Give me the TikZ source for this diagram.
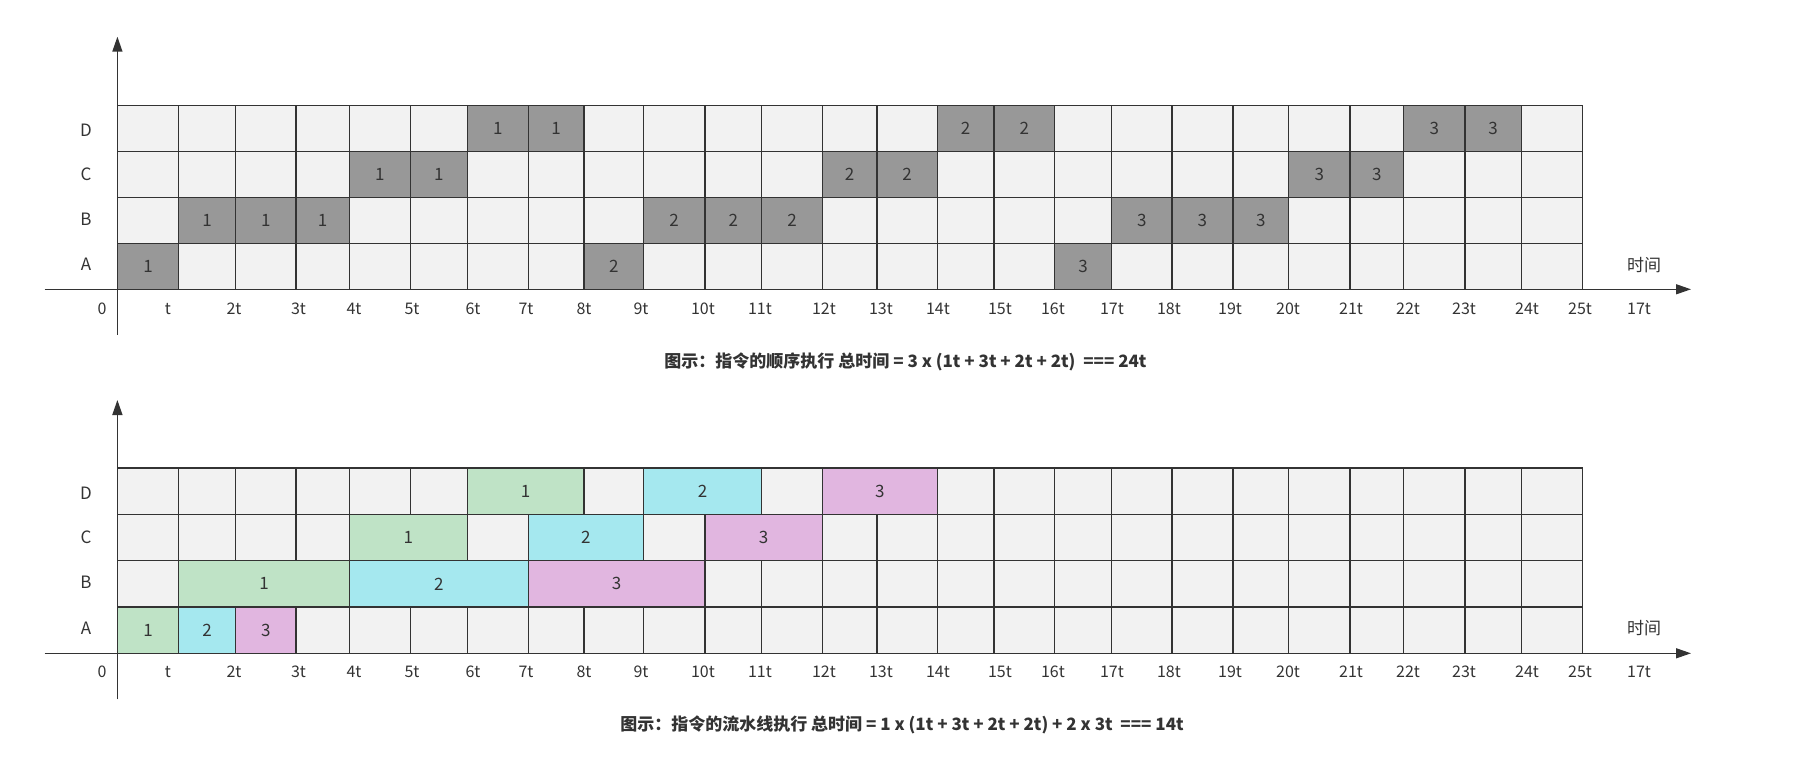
\documentclass[tikz,border=0pt]{standalone}
\usepackage{fontspec}
\setmainfont{Noto Sans CJK SC}
\usetikzlibrary{arrows.meta}
\definecolor{cellbg}{HTML}{F2F2F2}
\definecolor{gridc}{HTML}{333333}
\definecolor{darkcell}{HTML}{989898}
\definecolor{gcell}{HTML}{BFE3C6}
\definecolor{ccell}{HTML}{A5E8EF}
\definecolor{pcell}{HTML}{E1B6E0}
\definecolor{txt}{HTML}{333333}
\tikzset{
  gridl/.style={draw=gridc, line width=1.5pt},
  axisl/.style={draw=gridc, line width=1.4pt, -{Triangle[length=15pt,width=10pt]}},
  celltxt/.style={text=txt, font=\fontsize{17}{20}\selectfont, inner sep=0pt},
  rowlbl/.style={text=txt, font=\fontsize{17}{20}\selectfont, inner sep=0pt},
  ticklbl/.style={text=txt, font=\fontsize{16}{19}\selectfont, inner sep=0pt},
  caption/.style={text=txt, font=\bfseries\fontsize{17}{20}\selectfont, inner sep=0pt},
}
\newcommand\blk[7]{%
  \edef\xa{\csname colx#2\endcsname}\edef\xb{\csname colx#3\endcsname}%
  \draw[gridl, fill=#6] (\xa,#4) rectangle (\xb,#5);
  \node[celltxt] (#1) at ({(\xa+\xb)/2},{(#4+#5)/2}) {#7};}
\begin{document}
\begin{tikzpicture}[x=1pt,y=-1pt]
\useasboundingbox (0,0) rectangle (1804,775);
\foreach \x [count=\i from 0] in {117.4,178.7,235.7,295.8,349.5,410.4,467.4,528.3,584.0,643.5,704.8,761.7,822.6,876.8,937.3,993.8,1054.7,1111.7,1171.8,1232.9,1288.6,1349.9,1403.6,1464.9,1521.4,1582.7}{\expandafter\xdef\csname colx\i\endcsname{\x}}
% row limits, top chart (s) and bottom chart (p)
\def\sDtop{105.3}\def\sDbot{151.3}\def\sCtop{151.3}\def\sCbot{197.3}
\def\sBtop{197.3}\def\sBbot{243.3}\def\sAtop{243.3}\def\sAbot{289.3}
\def\pDtop{468.0}\def\pDbot{514.3}\def\pCtop{514.3}\def\pCbot{560.7}
\def\pBtop{560.7}\def\pBbot{607.0}\def\pAtop{607.0}\def\pAbot{653.3}

% ---------- background grids ----------
\foreach \i in {0,...,24}{
  \pgfmathtruncatemacro\j{\i+1}
  \edef\xa{\csname colx\i\endcsname}\edef\xb{\csname colx\j\endcsname}
  \foreach \ya/\yb in {105.3/151.3,151.3/197.3,197.3/243.3,243.3/289.3,468.0/514.3,514.3/560.7,560.7/607.0,607.0/653.3}
    \draw[gridl, fill=cellbg] (\xa,\ya) rectangle (\xb,\yb);
}

% ---------- top chart: sequential ----------
\foreach \c/\t/\rw in {0/1/A,8/2/A,16/3/A,1/1/B,2/1/B,3/1/B,9/2/B,10/2/B,11/2/B,17/3/B,18/3/B,19/3/B,4/1/C,5/1/C,12/2/C,13/2/C,20/3/C,21/3/C,6/1/D,7/1/D,14/2/D,15/2/D,22/3/D,23/3/D}{
  \pgfmathtruncatemacro\e{\c+1}
  \blk{s\rw\c}{\c}{\e}{\csname s\rw top\endcsname}{\csname s\rw bot\endcsname}{darkcell}{\t}
}

% ---------- bottom chart: pipeline ----------
\foreach \c/\e/\t/\rw/\f in {0/1/1/A/gcell,1/2/2/A/ccell,2/3/3/A/pcell,1/4/1/B/gcell,4/7/2/B/ccell,7/10/3/B/pcell,4/6/1/C/gcell,7/9/2/C/ccell,10/12/3/C/pcell,6/8/1/D/gcell,9/11/2/D/ccell,12/14/3/D/pcell}{
  \blk{p\rw\c}{\c}{\e}{\csname p\rw top\endcsname}{\csname p\rw bot\endcsname}{\f}{\t}
}

% ---------- axes ----------
\coordinate (sx0) at (44.7,289.3);  \coordinate (sx1) at (1691,289.3);
\coordinate (sy0) at (117.4,335);   \coordinate (sy1) at (117.4,36.7);
\coordinate (px0) at (44.7,653.3);  \coordinate (px1) at (1691,653.3);
\coordinate (py0) at (117.4,699.3); \coordinate (py1) at (117.4,400);
\draw[axisl] (sx0) -- (sx1);
\draw[axisl] (sy0) -- (sy1);
\draw[axisl] (px0) -- (px1);
\draw[axisl] (py0) -- (py1);

% ---------- row labels ----------
\foreach \r/\ys/\yp in {D/130/493.3,C/174.5/537.3,B/219.5/582.7,A/264.5/628.3}{
  \node[rowlbl] (sl\r) at (86,\ys) {\r};
  \node[rowlbl] (pl\r) at (86,\yp) {\r};
}
\node[rowlbl] (stime) at (1644,265.5) {时间};
\node[rowlbl] (ptime) at (1644,628.3) {时间};

% ---------- tick labels ----------
\foreach \x/\l [count=\k] in {102/0,168/t,234/2t,298.5/3t,354/4t,412/5t,473/6t,526/7t,584/8t,641/9t,703/10t,760/11t,824/12t,881/13t,938/14t,1000/15t,1053/16t,1112/17t,1169/18t,1230/19t,1288/20t,1351/21t,1408/22t,1464/23t,1527/24t,1580/25t,1639/17t}{
  \node[ticklbl] (st\k) at (\x,308.7) {\l};
  \node[ticklbl] (pt\k) at (\x,671.7) {\l};
}

% ---------- captions ----------
\node[caption] (scap) at (905.5,361.5) {图示：指令的顺序执行 总时间 = 3 x (1t + 3t + 2t + 2t)\ \ === 24t};
\node[caption] (pcap) at (902,725) {图示：指令的流水线执行 总时间 = 1 x (1t + 3t + 2t + 2t) + 2 x 3t\ \ === 14t};
\end{tikzpicture}
\end{document}
